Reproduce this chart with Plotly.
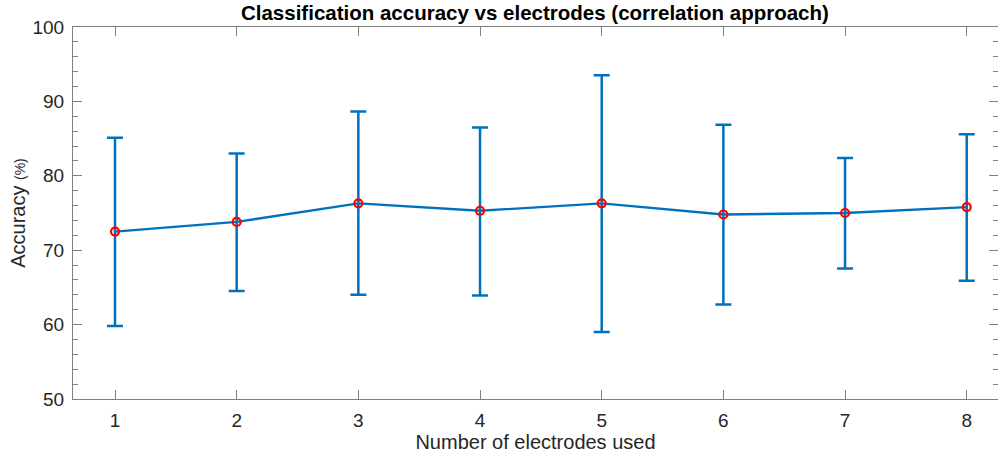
import plotly.graph_objects as go

electrodes = [1, 2, 3, 4, 5, 6, 7, 8]
accuracy = [72.5, 73.8, 76.3, 75.3, 76.3, 74.8, 75.0, 75.8]
err_plus = [12.6, 9.2, 12.35, 11.2, 17.2, 12.05, 7.4, 9.8]
err_minus = [12.7, 9.3, 12.3, 11.4, 17.3, 12.1, 7.45, 9.9]
y_ticks = [50, 60, 70, 80, 90, 100]

BLUE = "#0072BD"
AX = "#808080"
TXT = "#262626"
FONT = "Liberation Sans, Arial, Helvetica, sans-serif"

fig = go.Figure()
fig.add_trace(go.Scatter(
    x=electrodes, y=accuracy, mode="lines",
    line=dict(color=BLUE, width=2.3),
    error_y=dict(type="data", symmetric=False, array=err_plus, arrayminus=err_minus,
                 color=BLUE, thickness=2.5, width=8),
    showlegend=False, hoverinfo="skip"))
fig.add_trace(go.Scatter(
    x=electrodes, y=accuracy, mode="markers",
    marker=dict(symbol="circle-open", color="#FF0000", size=8, line=dict(width=2.2, color="#FF0000")),
    showlegend=False))

fig.update_layout(
    width=998, height=459,
    margin=dict(l=73, r=0, t=27, b=60, autoexpand=False),
    paper_bgcolor="white", plot_bgcolor="white",
    font=dict(family=FONT, color=TXT),
    title=dict(text="<b>Classification accuracy vs electrodes (correlation approach)</b>",
               x=0.536, xanchor="center", yref="container", y=0.973, yanchor="middle",
               pad=dict(t=0, b=0),
               font=dict(size=20.5, color="#000000", family=FONT)),
    xaxis=dict(range=[0.6548, 8.257], tickvals=electrodes, ticktext=[str(v) for v in electrodes],
               ticks="inside", ticklen=9, tickcolor=AX, tickwidth=1,
               showline=True, linecolor=AX, linewidth=1, mirror="ticks",
               showgrid=False, zeroline=False, automargin=False,
               tickfont=dict(size=19, color=TXT), ticklabelstandoff=4,
               title=dict(text="Number of electrodes used", font=dict(size=20, color=TXT), standoff=5)),
    yaxis=dict(range=[50, 100], tickvals=y_ticks,
               ticks="inside", ticklen=9, tickcolor=AX, tickwidth=1,
               showline=True, linecolor=AX, linewidth=1, mirror="ticks",
               showgrid=False, zeroline=False, automargin=False,
               tickfont=dict(size=19, color=TXT), ticklabelstandoff=4,
               minor=dict(dtick=2, ticks="inside", ticklen=5, tickcolor=AX, showgrid=False),
               title=dict(text="Accuracy <span style='font-size:14px'>(%)</span>",
                          font=dict(size=20, color=TXT), standoff=1)),
)

fig.write_html("out.html")
